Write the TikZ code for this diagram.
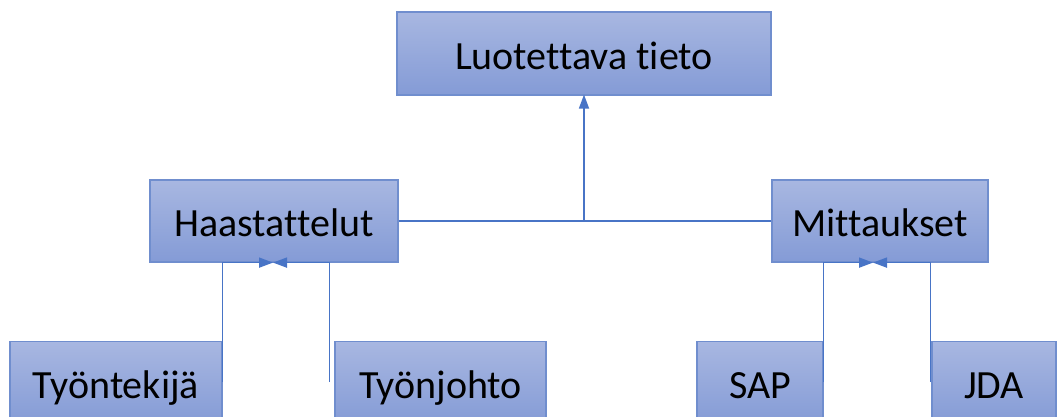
\documentclass[tikz,border=0pt]{standalone}
\usepackage{fontspec}
\setmainfont{Carlito}[Ligatures=NoCommon]
\usetikzlibrary{arrows.meta,calc}
\definecolor{boxtop}{RGB}{168,183,225}
\definecolor{boxbot}{RGB}{132,155,214}
\definecolor{boxline}{RGB}{112,142,206}
\definecolor{linkblue}{RGB}{72,116,198}
\tikzset{
  box/.style={draw=boxline, line width=1.2pt, top color=boxtop, bottom color=boxbot,
    minimum height=83pt, inner sep=0pt, text=black,
    text height=31pt, text depth=0pt,
    font=\fontsize{40}{48}\selectfont},
  link/.style={draw=linkblue, line width=1.7pt},
  tip/.style={-{Triangle[length=14pt,width=10pt]}}
}
\begin{document}
\begin{tikzpicture}[x=1pt,y=-1pt]
\clip (0,0) rectangle (1058,416);
% boxes
\node[box, minimum width=374pt] (top) at (584,53.5) {Luotettava tieto};
\node[box, minimum width=248pt, minimum height=82pt] (haas) at (274,221) {Haastattelut};
\node[box, minimum width=216pt, minimum height=82pt] (mitt) at (880,221) {Mittaukset};
\node[box, minimum width=212pt] (tyon) at (116,383) {Työntekijä};
\node[box, minimum width=211pt] (johto) at (440.5,383) {Työnjohto};
\node[box, minimum width=126pt] (sap) at (760,383) {SAP};
\node[box, minimum width=124pt] (jda) at (994,383) {JDA};
% connectors
\draw[link] (haas.east) -- (mitt.west);
\draw[link,tip,shorten >=-1pt] (top.south |- haas.east) -- (top.south);
\coordinate (hm) at ($(haas.south)+(-1,0)$);
\coordinate (mm) at ($(mitt.south)+(-7,0)$);
\draw[link,tip] ($(tyon.east)+(0,-1)$) |- (hm);
\draw[link,tip] ($(johto.west)+(-5,-1)$) |- (hm);
\draw[link,tip] ($(sap.east)+(0,-1)$) |- (mm);
\draw[link,tip] ($(jda.west)+(-1,-1)$) |- (mm);
\end{tikzpicture}
\end{document}
